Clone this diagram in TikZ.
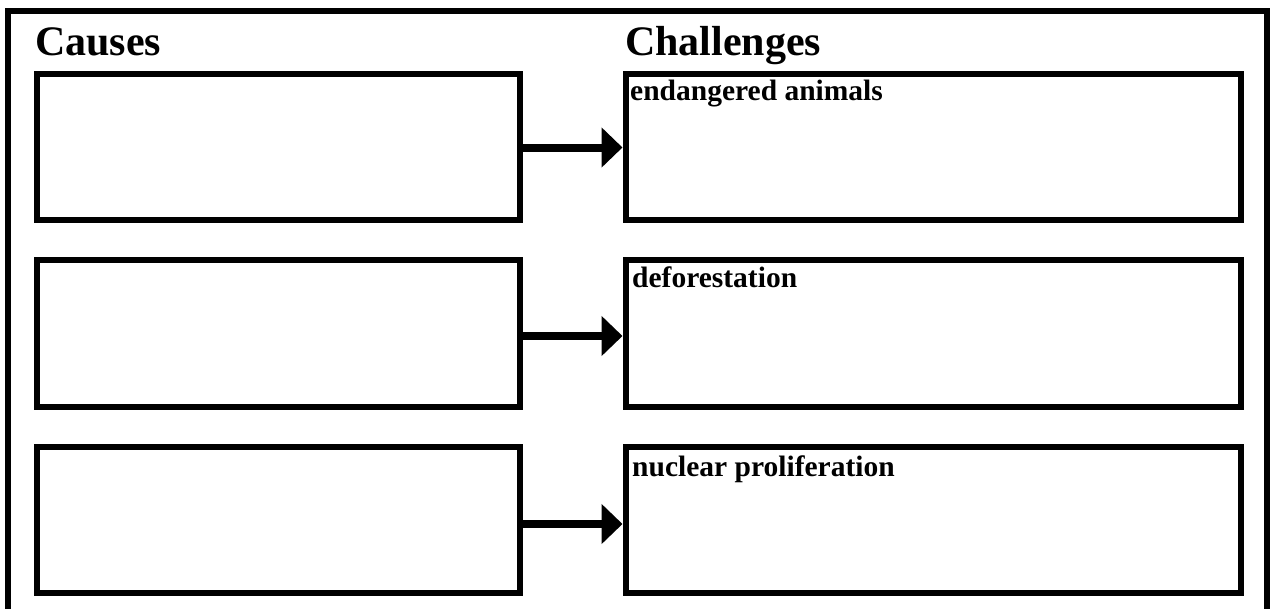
\documentclass[tikz,border=0pt]{standalone}
\usepackage{fontspec}
\setmainfont{Liberation Serif}
\usetikzlibrary{arrows.meta}
\begin{document}
\begin{tikzpicture}[x=1pt,y=-1pt,
  frame/.style={draw, line width=6pt},
  causebox/.style={draw, line width=6pt, rectangle, inner sep=0pt, minimum width=483.5pt, minimum height=146.5pt},
  challbox/.style={draw, line width=6pt, rectangle, inner sep=0pt, minimum width=615.5pt, minimum height=146.5pt},
  heading/.style={anchor=base west, inner sep=0pt, font=\fontsize{42}{50}\selectfont\bfseries},
  label/.style={anchor=base west, inner sep=0pt, font=\fontsize{29.5}{34}\selectfont\bfseries},
  link/.style={line width=8pt, -{Triangle[length=21pt,width=39pt]}}]
\useasboundingbox (0,0) rectangle (1272,608);
\draw[frame] (7.5,640) -- (7.5,10.5) -- (1266.5,10.5) -- (1266.5,640);
\node[heading] (hc) at (35,55) {Causes};
\node[heading] (hh) at (625,55) {Challenges};
\node[causebox] (c1) at (278.25,146.75) {};
\node[causebox] (c2) at (278.25,333.5) {};
\node[causebox] (c3) at (278.25,520) {};
\node[challbox] (h1) at (933.25,146.75) {};
\node[challbox] (h2) at (933.25,333.5) {};
\node[challbox] (h3) at (933.25,520) {};
\node[label] (t1) at (630,100) {endangered animals};
\node[label] (t2) at (632,287) {deforestation};
\node[label] (t3) at (632,476) {nuclear proliferation};
\draw[link] ([yshift=-0.75pt]c1.east) -- ([yshift=-0.75pt]h1.west);
\draw[link] ([yshift=-2.5pt]c2.east) -- ([yshift=-2.5pt]h2.west);
\draw[link] ([yshift=-4pt]c3.east) -- ([yshift=-4pt]h3.west);
\end{tikzpicture}
\end{document}
